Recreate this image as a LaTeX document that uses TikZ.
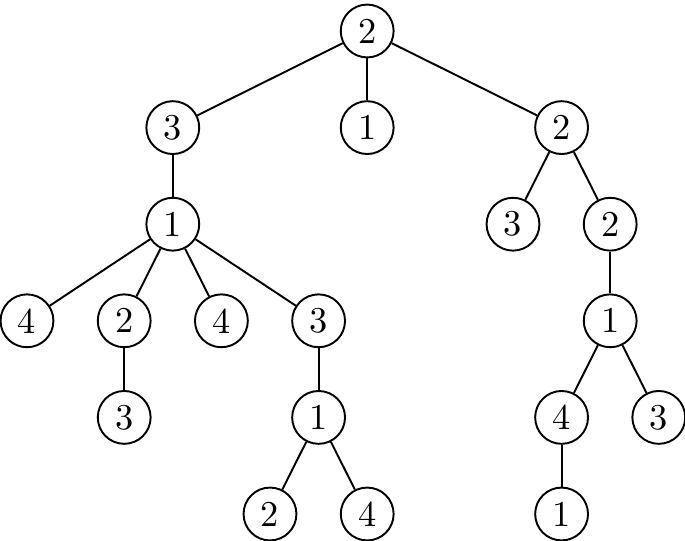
\documentclass[tikz,border=0pt]{standalone}
\begin{document}
\begin{tikzpicture}[x=0.2857pt,y=-0.2857pt,
  tn/.style={circle,draw,line width=0.55pt,minimum size=15.1pt,inner sep=0pt,font=\fontsize{10.4}{12}\selectfont},
  edge/.style={line width=0.55pt}]
\useasboundingbox (0,0) rectangle (685,541);
\newcommand\px[1]{27+#1*48.6}
\newcommand\py[1]{31+#1*96.6}
\node[tn] (r) at ({\px{7}},{\py{0}}) {2};
\node[tn] (a) at ({\px{3}},{\py{1}}) {3};
\node[tn] (b) at ({\px{7}},{\py{1}}) {1};
\node[tn] (c) at ({\px{11}},{\py{1}}) {2};
\node[tn] (a1) at ({\px{3}},{\py{2}}) {1};
\node[tn] (c1) at ({\px{10}},{\py{2}}) {3};
\node[tn] (c2) at ({\px{12}},{\py{2}}) {2};
\node[tn] (a11) at ({\px{0}},{\py{3}}) {4};
\node[tn] (a12) at ({\px{2}},{\py{3}}) {2};
\node[tn] (a13) at ({\px{4}},{\py{3}}) {4};
\node[tn] (a14) at ({\px{6}},{\py{3}}) {3};
\node[tn] (c21) at ({\px{12}},{\py{3}}) {1};
\node[tn] (a121) at ({\px{2}},{\py{4}}) {3};
\node[tn] (a141) at ({\px{6}},{\py{4}}) {1};
\node[tn] (c211) at ({\px{11}},{\py{4}}) {4};
\node[tn] (c212) at ({\px{13}},{\py{4}}) {3};
\node[tn] (a1411) at ({\px{5}},{\py{5}}) {2};
\node[tn] (a1412) at ({\px{7}},{\py{5}}) {4};
\node[tn] (c2111) at ({\px{11}},{\py{5}}) {1};
\draw[edge] (r) -- (a);
\draw[edge] (r) -- (b);
\draw[edge] (r) -- (c);
\draw[edge] (a) -- (a1);
\draw[edge] (c) -- (c1);
\draw[edge] (c) -- (c2);
\draw[edge] (a1) -- (a11);
\draw[edge] (a1) -- (a12);
\draw[edge] (a1) -- (a13);
\draw[edge] (a1) -- (a14);
\draw[edge] (c2) -- (c21);
\draw[edge] (a12) -- (a121);
\draw[edge] (a14) -- (a141);
\draw[edge] (c21) -- (c211);
\draw[edge] (c21) -- (c212);
\draw[edge] (a141) -- (a1411);
\draw[edge] (a141) -- (a1412);
\draw[edge] (c211) -- (c2111);
\end{tikzpicture}
\end{document}
